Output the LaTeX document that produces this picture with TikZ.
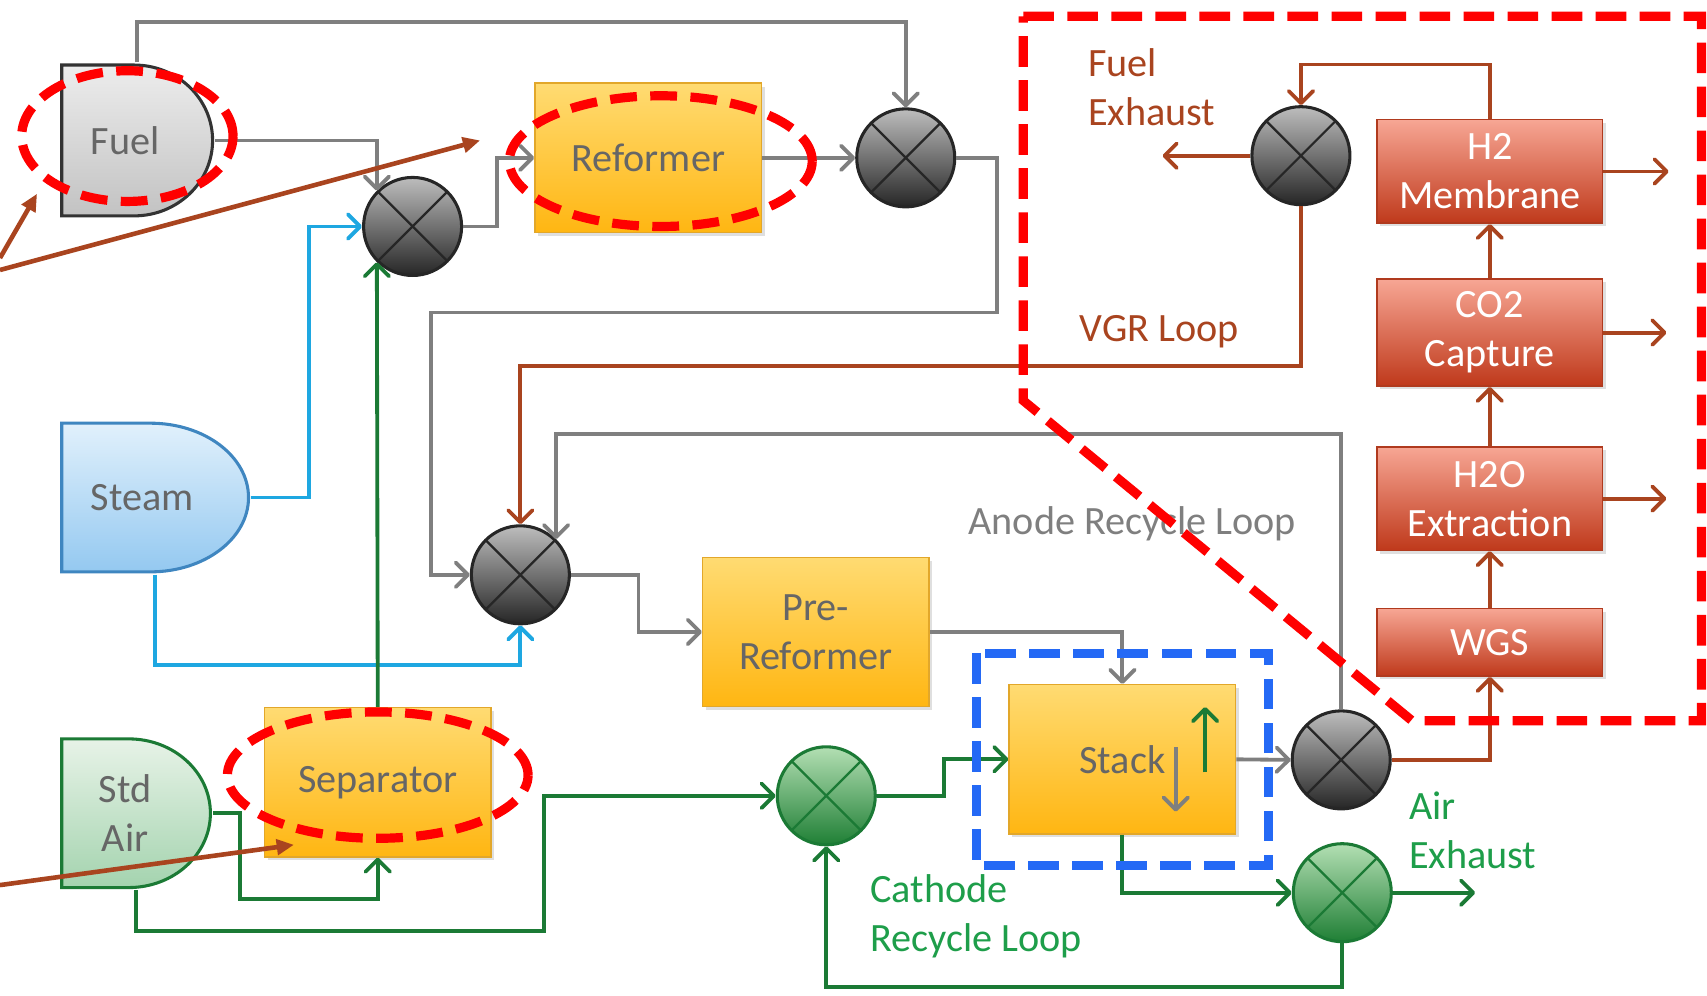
\documentclass[tikz,border=0pt]{standalone}
\usepackage{fontspec}
\setmainfont{Carlito}
\usetikzlibrary{arrows.meta, calc, shadows}
\definecolor{FlowGray}{HTML}{7F7F7F}
\definecolor{FlowBlue}{HTML}{1EA7E1}
\definecolor{FlowGreen}{HTML}{1B7A35}
\definecolor{FlowBrown}{HTML}{A9441F}
\definecolor{LabelGreen}{HTML}{1E9E4A}
\definecolor{BoxText}{HTML}{666666}
\definecolor{UnitTop}{HTML}{FFDB72}
\definecolor{UnitBottom}{HTML}{FFB612}
\definecolor{UnitBorder}{HTML}{E2A72A}
\definecolor{CaptureTop}{HTML}{F7A694}
\definecolor{CaptureBottom}{HTML}{BF391B}
\definecolor{CaptureBorder}{HTML}{B03A1E}
\definecolor{MixTop}{HTML}{BDBDBD}
\definecolor{MixBottom}{HTML}{262626}
\definecolor{MixGreenTop}{HTML}{B3DFB3}
\definecolor{MixGreenBottom}{HTML}{1F7F35}
\definecolor{SteamTop}{HTML}{E2F1FC}
\definecolor{SteamBottom}{HTML}{93C8F0}
\definecolor{SteamEdge}{HTML}{3F86C0}
\definecolor{AirTop}{HTML}{E8F3E8}
\definecolor{AirBottom}{HTML}{A3D3AE}
\definecolor{HiRed}{HTML}{FF0000}
\definecolor{HiBlue}{HTML}{2469F5}

\begin{document}
\begin{tikzpicture}[
    x=0.01cm, y=-0.01cm,
    txt/.style={font=\fontsize{10.5}{12.8}\selectfont},
    shade/.style={drop shadow={shadow xshift=0.03cm, shadow yshift=-0.03cm, opacity=0.25}},
    unit/.style={rectangle, draw=UnitBorder, top color=UnitTop, bottom color=UnitBottom, minimum width=2.08cm, minimum height=1.37cm, align=center, txt, text=BoxText, shade},
    capture/.style={rectangle, draw=CaptureBorder, top color=CaptureTop, bottom color=CaptureBottom, minimum width=2.07cm, minimum height=0.95cm, align=center, txt, text=white, shade},
    % feed tanks: flat left side, rounded right side
    source/.style 2 args={rectangle, inner sep=0pt, align=center, txt, text=BoxText,
      path picture={
        \path[#2] let \p1=(path picture bounding box.north west), \p2=(path picture bounding box.south east),
          \n1={(\y1-\y2)/2-0.5pt} in
          (\x1+0.5pt,\y1-0.5pt) -- (\x2-#1-0.5pt,\y1-0.5pt) arc[start angle=90, end angle=-90, x radius=#1, y radius=\n1]
          -- (\x1+0.5pt,\y2+0.5pt) -- cycle;}},
    fuelfill/.style={draw=black!80, line width=0.8pt, top color=black!7, bottom color=black!24},
    steamfill/.style={draw=SteamEdge, line width=0.8pt, top color=SteamTop, bottom color=SteamBottom},
    airfill/.style={draw=FlowGreen, line width=0.8pt, top color=AirTop, bottom color=AirBottom},
    mixer/.style={circle, minimum size=0.9cm, inner sep=0pt, draw=#1, line width=0.8pt, top color=MixTop, bottom color=MixBottom,
      path picture={\draw[#1, line width=0.6pt] (path picture bounding box.north west) -- (path picture bounding box.south east)
        (path picture bounding box.north east) -- (path picture bounding box.south west);}},
    mixer/.default=black!85,
    greenmixer/.style={mixer=FlowGreen, top color=MixGreenTop, bottom color=MixGreenBottom},
    flow/.style={-{Straight Barb[length=3.2pt,width=6.4pt,round]}, line width=1pt, FlowGray},
    steamflow/.style={flow, FlowBlue},
    airflow/.style={flow, FlowGreen},
    vgrflow/.style={flow, FlowBrown},
    note/.style={-{Triangle[length=4.5pt,width=4pt]}, line width=1.2pt, FlowBrown},
    ring/.style={HiRed, line width=2.4pt, dash pattern=on 7pt off 3.5pt},
    zone/.style={line width=2.4pt, dash pattern=on 8pt off 3.5pt}
  ]
  \useasboundingbox (0,0) rectangle (1568,914);

  % Sources
  \node[source={0.72cm}{fuelfill}, minimum width=1.42cm, minimum height=1.42cm] (fuel) at (126,129) {Fuel\hspace*{0.22cm}};
  \node[source={0.9cm}{steamfill}, minimum width=1.75cm, minimum height=1.4cm] (steam) at (142.5,457) {Steam\hspace*{0.24cm}};
  \node[source={0.75cm}{airfill}, minimum width=1.4cm, minimum height=1.4cm] (stdair) at (125,747) {Std\hspace*{0.2cm}\\Air\hspace*{0.2cm}};

  % Process units
  \node[unit] (reformer) at (595.5,145) {Reformer};
  \node[unit] (separator) at (347,718.5) {Separator};
  \node[unit] (preref) at (749.5,580.5) {Pre-\\Reformer};
  \node[unit] (stack) at (1031,697.5) {Stack};

  % Capture train
  \node[capture] (h2) at (1368.5,157.5) {H2\\Membrane};
  \node[capture] (co2) at (1368.5,305.5) {CO2\\Capture};
  \node[capture] (h2o) at (1368.5,458) {H2O\\Extraction};
  \node[capture, minimum height=0.62cm] (wgs) at (1368.5,590) {WGS};

  % Mixers
  \node[mixer] (mixFuel) at (379,208) {};
  \node[mixer] (mixRef) at (832,145) {};
  \node[mixer] (mixAnode) at (478,528) {};
  \node[greenmixer] (mixCath) at (759,731) {};
  \node[mixer] (mixStack) at (1232,698) {};
  \node[greenmixer] (mixAir) at (1233,820) {};
  \node[mixer] (mixVGR) at (1195,143) {};

  \coordinate (fuelOut) at (1068,143);
  \coordinate (airOut) at (1355,820);

  % Fuel side
  \draw[flow] (fuel.north) |- (500,20) -| (mixRef.north);
  \draw[flow] (fuel.east) -| (mixFuel.135);
  \draw[flow] (mixFuel.east) -- ++(31,0) |- (reformer.west);
  \draw[flow] (reformer.east) -- (mixRef.west);
  \draw[flow] (mixRef.east) -| (916,287) -- (396,287) |- (mixAnode.west);
  \draw[flow] (mixAnode.east) -- ++(62,0) |- (preref.west);
  \draw[flow] (preref.east) -| (stack.north);
  \draw[flow] (stack.east) -- (mixStack.west);
  \draw[flow] (mixStack.north) -- ++(0,-253) -| (mixAnode.45);

  % Steam
  \draw[steamflow] (steam.east) -- ++(53,0) |- (mixFuel.west);
  \draw[steamflow] (steam.south) -- ++(0,83) -| (mixAnode.south);

  % Air side
  \draw[airflow] (separator.north) -- (mixFuel.225);
  \draw[airflow] (stdair.east) -- ++(25,0) -- ++(0,79) -| (separator.south);
  \draw[airflow] (stdair.south) |- (500,855) |- (mixCath.west);
  \draw[airflow] (mixCath.east) -- ++(62,0) |- (stack.west);
  \draw[airflow] (stack.south) |- (mixAir.west);
  \draw[airflow] (mixAir.east) -- (airOut);
  \draw[airflow] (mixAir.south) -- ++(0,40) -| (mixCath.south);

  % Flow directions inside the stack
  \draw[flow] ($(stack.center)+(49,-11)$) -- ++(0,59);
  \draw[airflow] ($(stack.center)+(76,12)$) -- ++(0,-60);

  % Capture train and VGR loop
  \draw[vgrflow] (mixStack.east) -| (wgs.south);
  \draw[vgrflow] (wgs.north) -- (h2o.south);
  \draw[vgrflow] (h2o.north) -- (co2.south);
  \draw[vgrflow] (co2.north) -- (h2.south);
  \draw[vgrflow] (h2.east) -- ++(60,0);
  \draw[vgrflow] (co2.east) -- ++(58,0);
  \draw[vgrflow] (h2o.east) -- ++(58,0);
  \draw[vgrflow] (h2.north) -- ++(0,-50) -| (mixVGR.north);
  \draw[vgrflow] (mixVGR.west) -- (fuelOut);
  \draw[vgrflow] (mixVGR.south) -- ++(0,147) -| (mixAnode.north);

  % Labels
  \node[txt, text=FlowBrown, align=left, anchor=west] (lblFuelEx) at (987,80) {Fuel\\Exhaust};
  \node[txt, text=FlowBrown] (lblVGR) at (1065,305) {VGR Loop};
  \node[txt, text=FlowGray] (lblAnode) at (1040,481) {Anode Recycle Loop};
  \node[txt, text=LabelGreen, align=left, anchor=west] (lblCathode) at (787,842) {Cathode\\Recycle Loop};
  \node[txt, text=LabelGreen, align=left, anchor=west] (lblAirEx) at (1282,763) {Air\\Exhaust};

  % Highlights
  \draw[ring] (117,125) ellipse [x radius=0.97cm, y radius=0.6cm];
  \draw[ring] (607,148) ellipse [x radius=1.39cm, y radius=0.6cm];
  \draw[ring] (347,712) ellipse [x radius=1.38cm, y radius=0.58cm];
  \draw[zone, HiRed] (940,15) -- (1563,15) -- (1563,662) -- (1297,662) -- (940,368) -- cycle;
  \draw[zone, HiBlue] (897,600) rectangle (1165,795);

  % Pointers from the left margin
  \coordinate (noteA) at (0,237);
  \coordinate (noteAtip) at (34,178);
  \coordinate (noteB) at (0,248);
  \coordinate (noteBtip) at (441,129);
  \coordinate (noteC) at (0,813);
  \coordinate (noteCtip) at (270,776);
  \draw[note] (noteA) -- (noteAtip);
  \draw[note] (noteB) -- (noteBtip);
  \draw[note] (noteC) -- (noteCtip);
\end{tikzpicture}
\end{document}
